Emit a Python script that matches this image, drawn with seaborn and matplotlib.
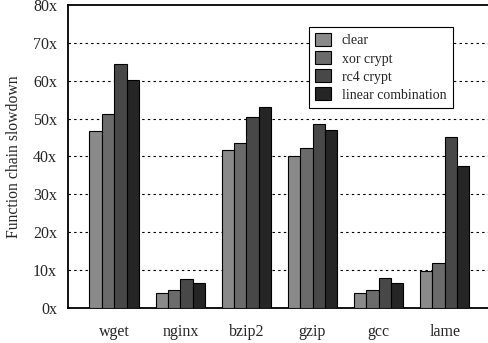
import matplotlib
matplotlib.use("Agg")
import matplotlib.pyplot as plt
import seaborn as sns
import pandas as pd

programs = ["wget", "nginx", "bzip2", "gzip", "gcc", "lame"]
series = ["clear", "xor crypt", "rc4 crypt", "linear combination"]
clear = [46.8, 3.9, 41.8, 40.0, 3.8, 9.7]
xor_crypt = [51.2, 4.6, 43.4, 42.1, 4.6, 11.8]
rc4_crypt = [64.5, 7.7, 50.5, 48.5, 7.8, 45.0]
linear_comb = [60.1, 6.6, 53.0, 47.0, 6.6, 37.5]
yticks = [0, 10, 20, 30, 40, 50, 60, 70, 80]
colors = ["#8a8a8a", "#6b6b6b", "#484848", "#252525"]

rows = []
for name, vals in zip(series, [clear, xor_crypt, rc4_crypt, linear_comb]):
    for p, v in zip(programs, vals):
        rows.append({"program": p, "series": name, "value": v})
df = pd.DataFrame(rows)

sns.set_theme(style="white")
plt.rcParams["font.family"] = ["Liberation Serif", "DejaVu Serif"]

fig = plt.figure(figsize=(4.88, 3.43), dpi=100)
ax = fig.add_axes([68 / 488, 1 - 307.7 / 343, 1 - 68 / 488, (307.7 - 5) / 343])

sns.barplot(data=df, x="program", y="value", hue="series", order=programs,
            hue_order=series, palette=colors, width=0.75, gap=0,
            edgecolor="black", linewidth=0.8, saturation=1, ax=ax, zorder=3)

ax.set_ylim(0, 80)
ax.set_xlim(-0.70, 5.655)
ax.set_yticks(yticks)
ax.set_yticklabels([f"{t}x" for t in yticks], fontsize=11.5)
ax.set_xticks(range(len(programs)))
ax.set_xticklabels(programs, fontsize=11.5)
ax.tick_params(axis="y", length=0, pad=8)
ax.tick_params(axis="x", length=0, pad=12)
for y in yticks[1:-1]:
    ax.axhline(y, color="black", lw=0.8, linestyle=(0, (2.2, 2.9)), zorder=1)

for s in ["left", "top", "bottom"]:
    ax.spines[s].set_visible(True)
    ax.spines[s].set_color("black")
    ax.spines[s].set_linewidth(1.3)
ax.spines["right"].set_visible(False)

ax.set_xlabel("")
ax.set_ylabel("Function chain slowdown", fontsize=11.3, labelpad=8)

leg = ax.legend(loc="upper left", bbox_to_anchor=(309 / 488, 1 - 27 / 343),
                bbox_transform=fig.transFigure, fontsize=10, frameon=True,
                fancybox=False, shadow=False, edgecolor="black",
                handlelength=1.1, handleheight=1.05, handletextpad=0.8,
                labelspacing=0.28, borderpad=0.45, borderaxespad=0)
leg.get_frame().set_linewidth(0.8)
leg.get_frame().set_alpha(1)
leg.set_zorder(5)

fig.savefig("out.png", dpi=100)
